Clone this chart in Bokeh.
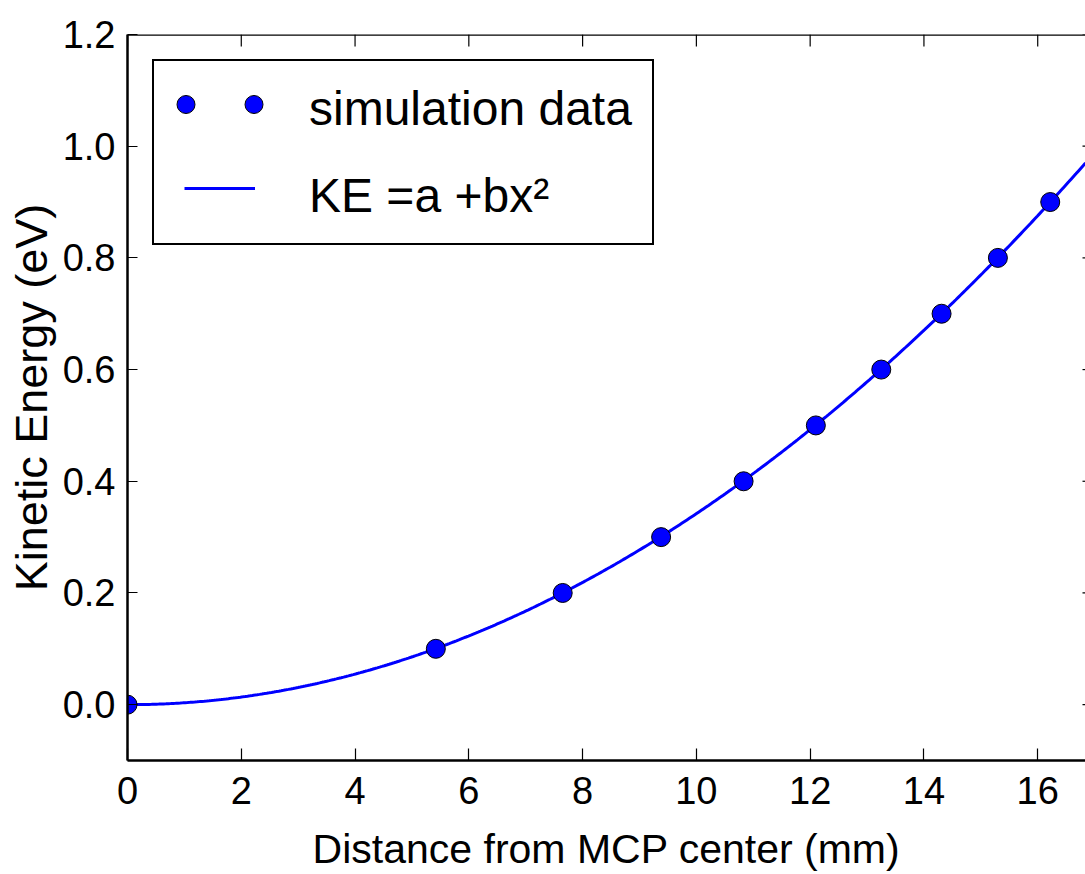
import numpy as np
from bokeh.plotting import figure
from bokeh.models import (Range1d, FixedTicker, Legend, LegendItem, Span,
                          PrintfTickFormatter)
from bokeh.core.properties import value
from bokeh.embed import file_html
from bokeh.resources import INLINE

# Simulated kinetic energy versus radial distance on the MCP
distance_mm = [0.0, 5.42, 7.65, 9.38, 10.83, 12.10, 13.25, 14.31, 15.30, 16.22]
kinetic_energy_ev = [0.0, 0.1, 0.2, 0.3, 0.4, 0.5, 0.6, 0.7, 0.8, 0.9]

# Quadratic fit KE = a + b x^2
FIT_A = 0.0
FIT_B = 0.00342

x_ticks = [0, 2, 4, 6, 8, 10, 12, 14, 16]
y_ticks = [0.0, 0.2, 0.4, 0.6, 0.8, 1.0, 1.2]
X_MIN, X_MAX = 0.0, 16.84
Y_MIN, Y_MAX = -0.1, 1.2

WIDTH, HEIGHT = 1085, 874
BORDER_L, BORDER_R, BORDER_T, BORDER_B = 127, 0, 34, 113
FRAME_W = WIDTH - BORDER_L - BORDER_R
FRAME_H = HEIGHT - BORDER_T - BORDER_B

FONT = "Liberation Sans"
BLUE = "#0000ff"
SPINE_W = 2.5

p = figure(width=WIDTH, height=HEIGHT,
           x_range=Range1d(X_MIN, X_MAX), y_range=Range1d(Y_MIN, Y_MAX),
           output_backend="svg", toolbar_location=None,
           min_border_left=BORDER_L, min_border_right=BORDER_R,
           min_border_top=BORDER_T, min_border_bottom=BORDER_B)
p.outline_line_color = None
p.xgrid.visible = False
p.ygrid.visible = False
p.background_fill_color = "white"
p.border_fill_color = "white"

xa = p.xaxis[0]
ya = p.yaxis[0]
xa.ticker = FixedTicker(ticks=x_ticks)
ya.ticker = FixedTicker(ticks=y_ticks)
xa.formatter = PrintfTickFormatter(format="%d")
ya.formatter = PrintfTickFormatter(format="%.1f")
xa.axis_label = "Distance from MCP center (mm)"
ya.axis_label = "Kinetic Energy (eV)"

for ax, tick_len, lab_standoff, ax_standoff, lab_size in (
        (xa, 12, 16, 19, "41px"), (ya, 10, 12, 3, "45px")):
    ax.axis_line_width = SPINE_W
    ax.axis_line_color = "black"
    ax.major_tick_in = tick_len
    ax.major_tick_out = 0
    ax.major_tick_line_width = 1.2
    ax.major_tick_line_color = "black"
    ax.minor_tick_line_color = None
    ax.major_label_text_font = FONT
    ax.major_label_text_font_size = "38px"
    ax.major_label_text_color = "black"
    ax.major_label_standoff = lab_standoff
    ax.axis_label_text_font = FONT
    ax.axis_label_text_font_size = lab_size
    ax.axis_label_text_font_style = "normal"
    ax.axis_label_text_color = "black"
    ax.axis_label_standoff = ax_standoff

# top spine with inward ticks, short tick stubs on the right edge
p.add_layout(Span(location=Y_MAX, dimension="width", line_color="black",
                  line_width=SPINE_W))
x_per_px = (X_MAX - X_MIN) / FRAME_W
y_per_px = (Y_MAX - Y_MIN) / FRAME_H
p.segment(x0=x_ticks, x1=x_ticks,
          y0=[Y_MAX] * len(x_ticks), y1=[Y_MAX - 12 * y_per_px] * len(x_ticks),
          line_color="black", line_width=1.2)
p.segment(x0=[X_MAX] * len(y_ticks), x1=[X_MAX - 3 * x_per_px] * len(y_ticks),
          y0=y_ticks, y1=y_ticks, line_color="black", line_width=1.2)

# fitted curve and simulation points
xs = np.linspace(X_MIN, X_MAX, 400)
fit = p.line(xs, FIT_A + FIT_B * xs ** 2, line_color=BLUE, line_width=3)
pts = p.scatter(distance_mm, kinetic_energy_ev, size=19, marker="circle",
                fill_color=BLUE, line_color="black", line_width=1)
blank = p.scatter(x=[], y=[], fill_alpha=0, line_alpha=0)

# legend frame and labels
box_legend = Legend(
    items=[LegendItem(label=value("simulation data"), renderers=[blank]),
           LegendItem(label=value("KE =a +bx²"), renderers=[blank])],
    location="top_left", margin=25, padding=20, spacing=32,
    glyph_width=100, glyph_height=52, label_height=52, label_standoff=35,
    label_text_font=FONT, label_text_font_size="48px", label_text_color="black",
    border_line_color="black", border_line_width=2.5, border_line_alpha=1,
    background_fill_color="white", background_fill_alpha=1)
p.add_layout(box_legend)

# two sample markers for the points entry
dot_legend = Legend(
    items=[LegendItem(label=value(""), renderers=[pts]),
           LegendItem(label=value(""), renderers=[pts])],
    orientation="horizontal", location="top_left", margin=36, padding=0, spacing=23,
    glyph_width=45, glyph_height=68, label_standoff=0, label_width=0,
    border_line_color=None, background_fill_alpha=0)
p.add_layout(dot_legend)

# sample line for the fit entry
line_legend = Legend(
    items=[LegendItem(label=value(""), renderers=[fit])],
    location="top_left", margin=57, padding=0,
    glyph_width=71, glyph_height=194, label_standoff=0, label_width=0,
    border_line_color=None, background_fill_alpha=0)
p.add_layout(line_legend)

open("out.html", "w").write(file_html(p, INLINE))
